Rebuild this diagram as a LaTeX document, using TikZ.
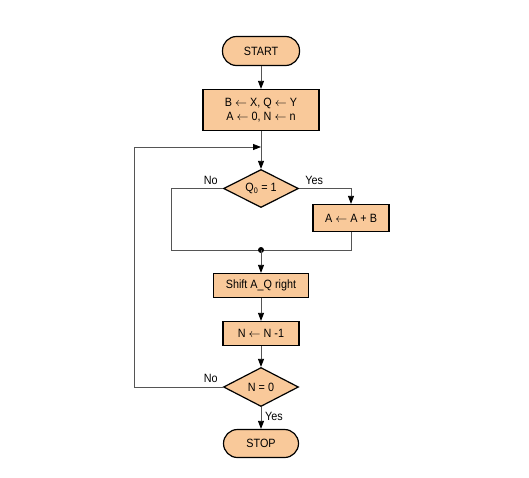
\documentclass[tikz,border=0pt]{standalone}
\usepackage{fontspec}
\setmainfont{Liberation Sans}[FakeStretch=0.9]
\usepackage{tikz}
\usetikzlibrary{positioning}
\usetikzlibrary{shapes.geometric}
\usetikzlibrary{arrows.meta}

\definecolor{PeachFill}{HTML}{F9C99A}
\definecolor{WireGray}{HTML}{555555}
\newcommand{\getsarrow}{\ensuremath{\leftarrow}}

\tikzset{
  term/.style={draw, line width=1.2pt, fill=PeachFill, rounded corners=14pt, minimum width=77pt, minimum height=29pt, inner sep=1pt, font=\fontsize{12}{14}\selectfont},
  proc/.style={draw, line width=1.2pt, fill=PeachFill, inner sep=1pt, align=center, font=\fontsize{12}{14}\selectfont},
  decide/.style={diamond, draw, line width=1.2pt, fill=PeachFill, inner sep=0pt, shape aspect=2, minimum width=75pt, minimum height=38pt, font=\fontsize{12}{14}\selectfont},
  wire/.style={draw=WireGray, line width=0.8pt},
  flow/.style={wire, -{Triangle[length=8pt, width=6pt, color=black]}},
  lbl/.style={inner sep=1pt, font=\fontsize{12}{14}\selectfont},
}

\begin{document}
\begin{tikzpicture}[x=1pt, y=1pt]
\useasboundingbox (0,0) rectangle (529,-477);
\node[term] (start) at (261,-51) {START};
\node[proc, below=22.8pt of start, minimum width=116pt, minimum height=41pt] (init) {B \getsarrow{} X, Q \getsarrow{} Y\\A \getsarrow{} 0, N \getsarrow{} n};
\node[decide, below=37.8pt of init] (testq) {Q\textsubscript{0} = 1};
\node[proc, minimum width=76pt, minimum height=27pt] (add) at (351,-218) {A \getsarrow{} A + B};
\node[proc, below=64.8pt of testq, minimum width=95pt, minimum height=24pt] (shift) {Shift A\_Q right};
\node[proc, below=22.8pt of shift, minimum width=76pt, minimum height=24pt] (dec) {N \getsarrow{} N -1};
\node[decide, below=20.8pt of dec, minimum height=39pt] (testn) {N = 0};
\node[term, below=21.8pt of testn, minimum width=75pt, minimum height=28pt] (stop) {STOP};
% joints of the connectors
\coordinate (join) at (261,-250);
\coordinate (qleft) at (171,-250);
\coordinate (loop) at (261,-147);
\coordinate (loopleft) at (134,-147);
\draw[flow] (start) -- (init);
\draw[flow] (init) -- (testq);
\draw[wire] (testq.west) -| (qleft) -- (join);
\draw[flow] (testq.east) -| (add.north);
\draw[wire] (add.south) |- (join);
\fill (join) circle (3pt);
\draw[flow] (join) -- (shift);
\draw[flow] (shift) -- (dec);
\draw[flow] (dec) -- (testn);
\draw[flow] (testn) -- (stop);
\draw[flow] (testn.west) -| (loopleft) -- (loop);
% branch labels
\node[lbl, anchor=south east] (noq) at ([xshift=-4pt, yshift=3pt]testq.west) {No};
\node[lbl, anchor=south west] (yesq) at ([xshift=5pt, yshift=3pt]testq.east) {Yes};
\node[lbl, anchor=south east] (non) at ([xshift=-4pt, yshift=3pt]testn.west) {No};
\node[lbl, anchor=west] (yesn) at ([xshift=3pt, yshift=-9pt]testn.south) {Yes};
\end{tikzpicture}
\end{document}
